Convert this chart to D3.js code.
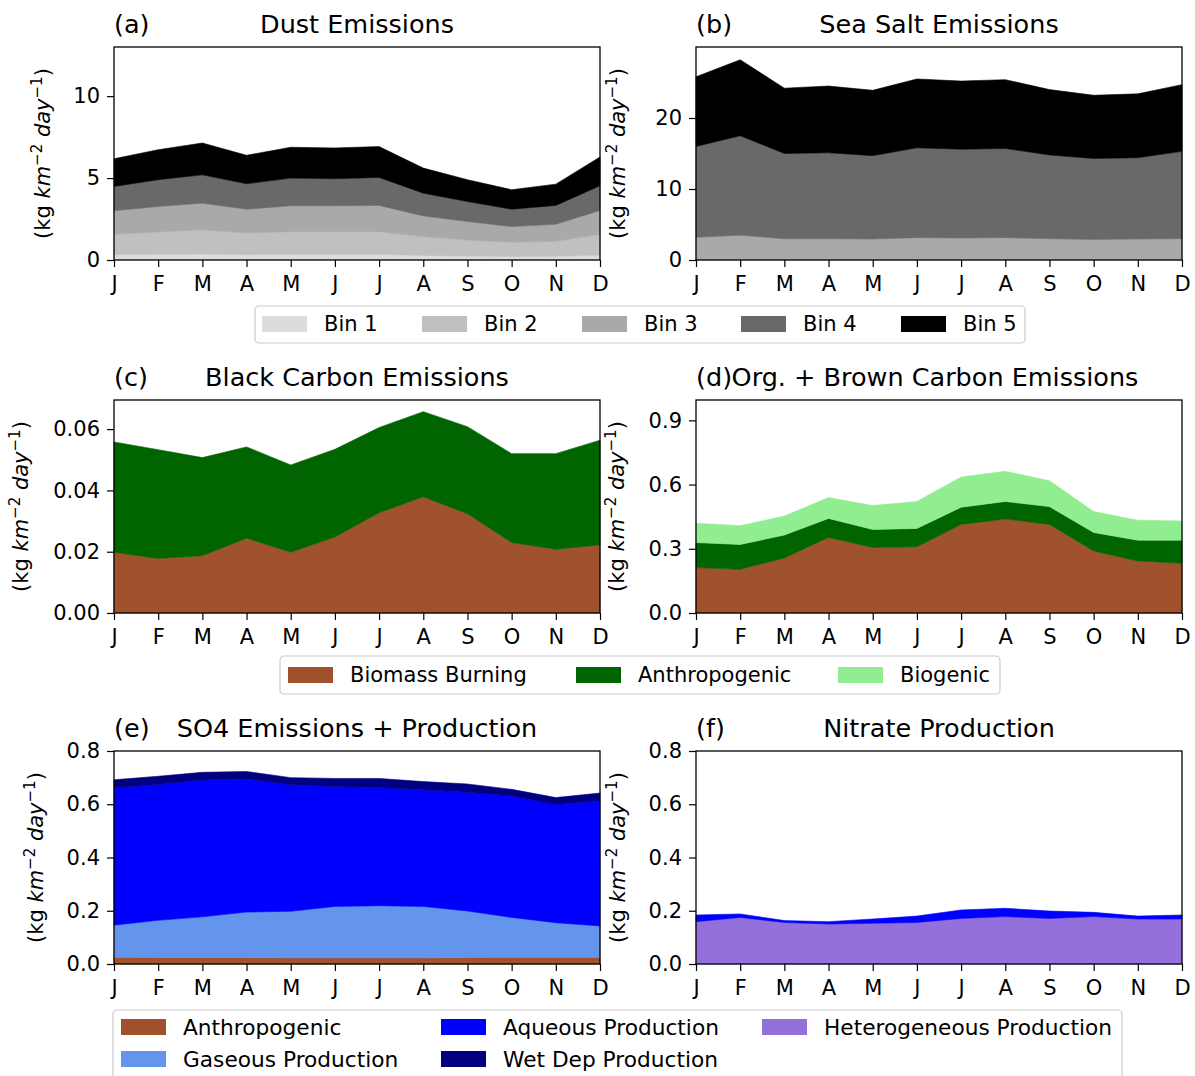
<!DOCTYPE html>
<html>
<head>
<meta charset="utf-8">
<script src="https://cdn.jsdelivr.net/npm/d3@7"></script>
<style>
  body { margin: 0; background: #fff; }
  text { font-family: "DejaVu Sans", sans-serif; fill: #000; }
</style>
</head>
<body>
<div id="viz"></div>
<script>
// month ticks
var months = ["J","F","M","A","M","J","J","A","S","O","N","D"];

// (a) dust emissions, per bin
var dustBin1 = [0.33,0.35,0.36,0.33,0.35,0.35,0.35,0.28,0.25,0.22,0.23,0.30];
var dustBin2 = [1.24,1.36,1.48,1.32,1.38,1.38,1.38,1.15,0.97,0.86,0.91,1.27];
var dustBin3 = [1.43,1.56,1.63,1.45,1.58,1.58,1.60,1.26,1.13,0.96,1.04,1.45];
var dustBin4 = [1.49,1.63,1.73,1.55,1.69,1.65,1.71,1.39,1.22,1.06,1.15,1.51];
var dustBin5 = [1.69,1.83,1.94,1.74,1.88,1.88,1.88,1.53,1.33,1.19,1.30,1.76];

// (b) sea salt emissions, per bin
var saltBin1 = [0.01,0.01,0.01,0.01,0.01,0.01,0.01,0.01,0.01,0.01,0.01,0.01];
var saltBin2 = [0.10,0.11,0.10,0.10,0.10,0.10,0.10,0.10,0.10,0.10,0.10,0.10];
var saltBin3 = [3.09,3.38,2.89,2.89,2.85,3.04,2.99,3.04,2.89,2.79,2.85,2.89];
var saltBin4 = [12.8,14.0,12.0,12.1,11.74,12.65,12.5,12.55,11.8,11.4,11.44,12.3];
var saltBin5 = [9.8,10.7,9.2,9.4,9.2,9.7,9.6,9.7,9.2,8.9,9.0,9.4];

// (c) black carbon
var bcBiomass = [0.0198,0.0178,0.0187,0.0244,0.0198,0.0248,0.0327,0.0379,0.0324,0.0230,0.0208,0.0222];
var bcAnthro  = [0.0360,0.0355,0.0320,0.0298,0.0285,0.0286,0.0278,0.0278,0.0284,0.0290,0.0312,0.0342];

// (d) organic + brown carbon
var ocBiomass  = [0.212,0.204,0.257,0.353,0.306,0.309,0.414,0.439,0.414,0.290,0.243,0.232];
var ocAnthro   = [0.117,0.116,0.107,0.089,0.084,0.086,0.080,0.082,0.083,0.086,0.097,0.108];
var ocBiogenic = [0.090,0.088,0.089,0.097,0.112,0.126,0.141,0.141,0.121,0.098,0.093,0.090];

// (e) SO4
var so4Anthro  = [0.025,0.024,0.024,0.024,0.023,0.023,0.023,0.023,0.024,0.025,0.025,0.025];
var so4Gas     = [0.121,0.140,0.153,0.171,0.175,0.193,0.196,0.193,0.175,0.150,0.130,0.118];
var so4Aqueous = [0.516,0.510,0.514,0.500,0.475,0.451,0.444,0.438,0.446,0.456,0.444,0.469];
var so4WetDep  = [0.030,0.031,0.029,0.028,0.027,0.030,0.034,0.031,0.031,0.025,0.026,0.030];

// (f) nitrate
var no3Hetero  = [0.159,0.175,0.156,0.150,0.153,0.156,0.171,0.178,0.171,0.178,0.169,0.169];
var no3Aqueous = [0.025,0.013,0.007,0.009,0.016,0.024,0.032,0.031,0.028,0.016,0.011,0.015];

var binNames = ["Bin 1","Bin 2","Bin 3","Bin 4","Bin 5"];
var binColors = ["#dcdcdc","#c0c0c0","#a9a9a9","#696969","#000000"];

var W = 1195, H = 1076;
var pw = 486, ph = 213;

var svg = d3.select("#viz").append("svg")
  .attr("width", W)
  .attr("height", H);

function panel(o){
  var g = svg.append("g").attr("transform", "translate(" + o.x + "," + o.y + ")");

  var x = d3.scaleLinear().domain([0, months.length - 1]).range([0, pw]);
  var y = d3.scaleLinear().domain([0, o.ymax]).range([ph, 0]);

  var rows = months.map(function(m, i){
    var r = {i: i};
    o.series.forEach(function(s, k){ r["s" + k] = s[i]; });
    return r;
  });
  var keys = o.series.map(function(s, k){ return "s" + k; });
  var stacked = d3.stack().keys(keys)(rows);

  var area = d3.area()
    .x(function(d){ return x(d.data.i); })
    .y0(function(d){ return y(d[0]); })
    .y1(function(d){ return y(d[1]); });

  g.selectAll("path.layer")
    .data(stacked)
    .enter()
  .append("path")
    .attr("class", "layer")
    .attr("d", area)
    .attr("fill", function(d, k){ return o.colors[k]; })
    .attr("stroke", function(d, k){ return o.colors[k]; })
    .attr("stroke-width", 0.6);

  // axes
  var xa = g.append("g")
    .attr("transform", "translate(0," + ph + ")")
    .call(d3.axisBottom(x)
      .tickValues(d3.range(months.length))
      .tickFormat(function(i){ return months[i]; })
      .tickSize(7).tickPadding(9));

  var ya = g.append("g")
    .call(d3.axisLeft(y)
      .tickValues(o.ticks)
      .tickFormat(d3.format(o.fmt))
      .tickSize(7).tickPadding(7));

  [xa, ya].forEach(function(a){
    a.select(".domain").remove();
    a.selectAll("line").attr("stroke", "#000").attr("stroke-width", 1.2);
    a.selectAll("text").style("font-size", "21px").attr("fill", "#000");
  });

  g.append("rect")
    .attr("width", pw).attr("height", ph)
    .attr("fill", "none")
    .attr("stroke", "#000")
    .attr("stroke-width", 1.3);

  // titles
  g.append("text")
    .attr("x", 0).attr("y", -14)
    .style("font-size", "25.5px")
    .text(o.tag);
  g.append("text")
    .attr("x", pw / 2 + (o.titleShift || 0)).attr("y", -14)
    .attr("text-anchor", "middle")
    .style("font-size", "25.5px")
    .text(o.title);

  // y label with math
  var lab = svg.append("text")
    .attr("transform", "translate(" + (o.x - o.labOff) + "," + (o.y + ph / 2) + ") rotate(-90)")
    .attr("text-anchor", "middle")
    .style("font-size", "21px");
  lab.append("tspan").text("(kg ");
  lab.append("tspan").style("font-style", "italic").text("km");
  lab.append("tspan").attr("dy", -8).style("font-size", "15px").text("\u22122");
  lab.append("tspan").attr("dy", 8).text(" ");
  lab.append("tspan").style("font-style", "italic").text("day");
  lab.append("tspan").attr("dy", -8).style("font-size", "15px").text("\u22121");
  lab.append("tspan").attr("dy", 8).text(")");
}

function legend(o){
  var g = svg.append("g").attr("transform", "translate(" + o.x + "," + o.y + ")");
  g.append("rect")
    .attr("width", o.w).attr("height", o.h)
    .attr("rx", 4)
    .attr("fill", "#fff").attr("fill-opacity", 0.8)
    .attr("stroke", "#cccccc").attr("stroke-width", 1.2);
  var items = g.selectAll("g.item")
    .data(o.names)
    .enter()
  .append("g")
    .attr("transform", function(d, i){
      return "translate(" + o.pos[i][0] + "," + o.pos[i][1] + ")";
    });
  items.append("rect")
    .attr("x", 0).attr("y", -8)
    .attr("width", 45).attr("height", 16)
    .attr("fill", function(d, i){ return o.colors[i]; });
  items.append("text")
    .attr("x", 62).attr("y", 0).attr("dy", "0.35em")
    .style("font-size", o.fs || "21px")
    .text(function(d){ return d; });
}

var lx = 114, rx = 696;
var r1 = 47, r2 = 400, r3 = 751;

panel({x: lx, y: r1, ymax: 13, ticks: [0,5,10], fmt: "d", tag: "(a)", title: "Dust Emissions",
  series: [dustBin1, dustBin2, dustBin3, dustBin4, dustBin5], colors: binColors, labOff: 64});
panel({x: rx, y: r1, ymax: 30, ticks: [0,10,20], fmt: "d", tag: "(b)", title: "Sea Salt Emissions",
  series: [saltBin1, saltBin2, saltBin3, saltBin4, saltBin5], colors: binColors, labOff: 71});

legend({x: 255, y: 306, w: 770, h: 37, names: binNames, colors: binColors,
  pos: [[7,18],[167,18],[327,18],[486,18],[646,18]]});

var bcColors = ["#a0522d","#006400","#90ee90"];
panel({x: lx, y: r2, ymax: 0.0695, ticks: [0,0.02,0.04,0.06], fmt: ".2f", tag: "(c)", title: "Black Carbon Emissions",
  series: [bcBiomass, bcAnthro], colors: bcColors, labOff: 86});
panel({x: rx, y: r2, ymax: 0.995, ticks: [0,0.3,0.6,0.9], fmt: ".1f", tag: "(d)", title: "Org. + Brown Carbon Emissions",
  titleShift: -4, series: [ocBiomass, ocAnthro, ocBiogenic], colors: bcColors, labOff: 72});

legend({x: 280, y: 656, w: 720, h: 38, names: ["Biomass Burning","Anthropogenic","Biogenic"], colors: bcColors,
  pos: [[8,19],[296,19],[558,19]]});

var so4Colors = ["#a0522d","#6495ed","#0000ff","#000080"];
panel({x: lx, y: r3, ymax: 0.8, ticks: [0,0.2,0.4,0.6,0.8], fmt: ".1f", tag: "(e)", title: "SO4 Emissions + Production",
  series: [so4Anthro, so4Gas, so4Aqueous, so4WetDep], colors: so4Colors, labOff: 71});
panel({x: rx, y: r3, ymax: 0.8, ticks: [0,0.2,0.4,0.6,0.8], fmt: ".1f", tag: "(f)", title: "Nitrate Production",
  series: [no3Hetero, no3Aqueous], colors: ["#9370db","#0000ff"], labOff: 71});

legend({x: 113, y: 1010, w: 1009, h: 80, fs: "21.7px",
  names: ["Anthropogenic","Gaseous Production","Aqueous Production","Wet Dep Production","Heterogeneous Production"],
  colors: ["#a0522d","#6495ed","#0000ff","#000080","#9370db"],
  pos: [[8,17],[8,49],[328,17],[328,49],[649,17]]});
</script>
</body>
</html>
